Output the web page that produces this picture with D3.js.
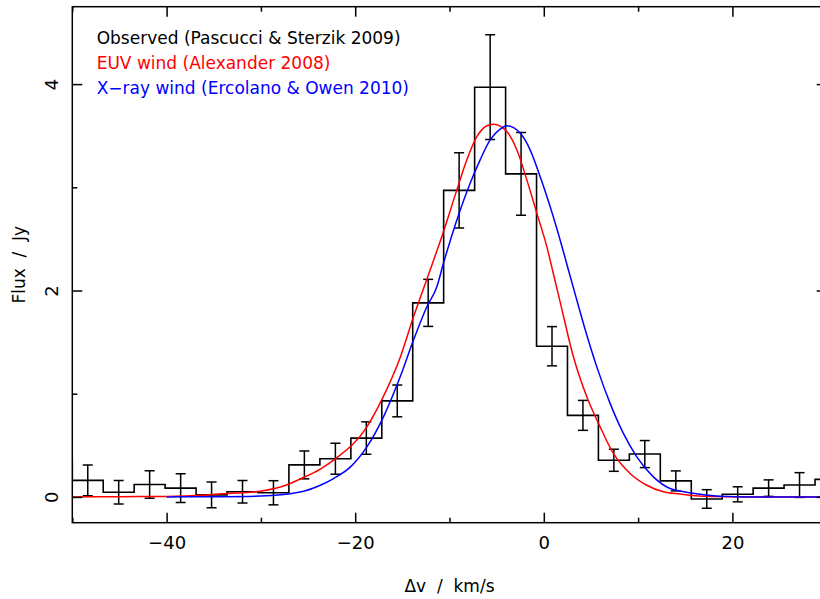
<!DOCTYPE html>
<html>
<head>
<meta charset="utf-8">
<script src="https://cdn.jsdelivr.net/npm/d3@7"></script>
<style>
	body { margin: 0; background: white; }
	text { font-family: 'DejaVu Sans', sans-serif; font-size: 17px; white-space: pre; }
</style>
</head>
<body>
<script>
// observed spectrum, bin centres in km/s (first and last bins are cut by the frame)
var binCenters = [-51.64, -48.36, -45.08, -41.80, -38.51, -35.23, -31.95, -28.67, -25.39, -22.10,
	-18.82, -15.54, -12.26, -8.98, -5.69, -2.41, 0.87, 4.15, 7.43, 10.71,
	14.00, 17.28, 20.56, 23.84, 27.12, 30.41]
var observedFlux = [0.34, 0.16, 0.045, 0.12, 0.085, 0.02, 0.05, 0.04, 0.31, 0.37,
	0.57, 0.93, 1.88, 2.97, 3.97, 3.13, 1.46, 0.79, 0.355, 0.415,
	0.155, -0.02, 0.025, 0.085, 0.115, 0.17]
var observedErr = [0.15, 0.15, 0.115, 0.133, 0.14, 0.125, 0.108, 0.117, 0.135, 0.15,
	0.157, 0.154, 0.228, 0.365, 0.507, 0.40, 0.19, 0.145, 0.107, 0.131,
	0.097, 0.09, 0.073, 0.08, 0.12, 0.12]

// EUV wind model
var euvV = [-50, -45, -40, -36, -33.6, -30.1, -27.0, -25.8, -23.7, -22.3, -18.76, -17.2, -15.2,
	-13.8, -12.4, -10.64, -9.22, -8.16, -7.10, -6.04, -5.34, -3.92, -2.86, -1.80, -0.74,
	0.32, 1.02, 1.73, 3.14, 4.56, 5.97, 7.38, 9.15, 10.92, 12.68, 14.45, 16, 18, 22, 30]
var euvFlux = [0.0, 0.002, 0.005, 0.018, 0.033, 0.055, 0.125, 0.175, 0.27, 0.356, 0.679, 0.938, 1.358,
	1.75, 2.11, 2.57, 2.975, 3.266, 3.49, 3.596, 3.612, 3.54, 3.363, 3.072, 2.749,
	2.425, 2.16, 1.89, 1.358, 0.970, 0.679, 0.421, 0.227, 0.113, 0.05, 0.028, 0.012, 0.003, 0, 0]

// X-ray wind model
var xrayV = [-40, -35, -30, -26, -23.7, -22.3, -20.5, -18.76, -17.0, -15.23, -13.82, -12.40,
	-11.34, -10.64, -9.22, -7.81, -6.75, -5.69, -4.63, -3.92, -2.51, -1.45, -0.39, 0.67, 1.73,
	2.79, 3.50, 4.20, 5.62, 7.03, 8.44, 9.86, 11.62, 13.39, 14.45, 16.57, 18.69, 22, 30]
var xrayFlux = [0.0, 0.002, 0.008, 0.044, 0.113, 0.178, 0.291, 0.485, 0.776, 1.164, 1.52, 1.843,
	2.037, 2.264, 2.684, 3.04, 3.266, 3.46, 3.563, 3.596, 3.525, 3.363, 3.104, 2.813, 2.49,
	2.14, 1.908, 1.68, 1.26, 0.906, 0.615, 0.388, 0.194, 0.081, 0.058, 0.026, 0.007, 0, 0]

var xMajor = [-40, -20, 0, 20]
var xMinor = [-50, -30, -10, 10, 30]
var yMajor = [0, 2, 4]
var yMinor = [1, 3]

var legendLabels = ['Observed (Pascucci & Sterzik 2009)', 'EUV wind (Alexander 2008)', 'X\u2212ray wind (Ercolano & Owen 2010)']
var legendColors = ['black', 'red', 'blue']

// plot box (right edge falls just outside the window)
var boxL = 72.3, boxR = 826.7, boxT = 6.7, boxB = 522.7

var x = d3.scaleLinear().domain([-50, 30]).range([boxL, boxR])
var y = d3.scaleLinear().domain([-0.25, 4.75]).range([boxB, boxT])

var svg = d3.select('body').append('svg')
	.attr('width', 820)
	.attr('height', 599)

svg.append('clipPath').attr('id', 'plotclip')
	.append('rect')
		.attr('x', boxL).attr('y', boxT)
		.attr('width', boxR - boxL).attr('height', boxB - boxT)

var plot = svg.append('g').attr('clip-path', 'url(#plotclip)')

// histogram of the observed line
var hist = d3.line()
	.x(function(d, i) { return x(binCenters[i]) })
	.y(function(d) { return y(d) })
	.curve(d3.curveStep)

plot.append('path')
	.attr('d', hist(observedFlux))
	.attr('fill', 'none')
	.attr('stroke', 'black')
	.attr('stroke-width', 1.6)

// error bars with caps
var bars = plot.append('g').attr('stroke', 'black').attr('stroke-width', 1.5)
observedFlux.forEach(function(f, i) {
	var cx = x(binCenters[i])
	var y1 = y(f - observedErr[i]), y2 = y(f + observedErr[i])
	bars.append('line').attr('x1', cx).attr('x2', cx).attr('y1', y1).attr('y2', y2)
	bars.append('line').attr('x1', cx - 5).attr('x2', cx + 5).attr('y1', y1).attr('y2', y1)
	bars.append('line').attr('x1', cx - 5).attr('x2', cx + 5).attr('y1', y2).attr('y2', y2)
})

// model curves
function modelLine(vs) {
	return d3.line()
		.x(function(d, i) { return x(vs[i]) })
		.y(function(d) { return y(d) })
		.curve(d3.curveMonotoneX)
}

plot.append('path')
	.attr('d', modelLine(euvV)(euvFlux))
	.attr('fill', 'none')
	.attr('stroke', 'red')
	.attr('stroke-width', 1.5)

plot.append('path')
	.attr('d', modelLine(xrayV)(xrayFlux))
	.attr('fill', 'none')
	.attr('stroke', 'blue')
	.attr('stroke-width', 1.5)

// frame
svg.append('rect')
	.attr('x', boxL).attr('y', boxT)
	.attr('width', boxR - boxL).attr('height', boxB - boxT)
	.attr('fill', 'none')
	.attr('stroke', 'black')
	.attr('stroke-width', 1.5)

function fmt(d) { return String(d).replace('-', '\u2212') }

// ticks pointing into the box on every side
function addAxis(axis, tx, ty) {
	var g = svg.append('g')
		.attr('transform', 'translate(' + tx + ',' + ty + ')')
		.call(axis)
	g.select('.domain').remove()
	g.selectAll('line').attr('stroke-width', 1.5)
	return g
}

var xb = addAxis(d3.axisBottom(x).tickValues(xMajor).tickSize(-10).tickPadding(14).tickFormat(fmt), 0, boxB)
xb.selectAll('text').style('font-size', '18px').style('font-family', 'DejaVu Sans').attr('fill', 'black')
addAxis(d3.axisBottom(x).tickValues(xMinor).tickSize(-5).tickFormat(''), 0, boxB)
addAxis(d3.axisTop(x).tickValues(xMajor).tickSize(-10).tickFormat(''), 0, boxT)
addAxis(d3.axisTop(x).tickValues(xMinor).tickSize(-5).tickFormat(''), 0, boxT)

var yl = addAxis(d3.axisLeft(y).tickValues(yMajor).tickSize(-10).tickFormat(fmt), boxL, 0)
yl.selectAll('text')
	.attr('x', 0).attr('dy', 0)
	.attr('text-anchor', 'middle')
	.attr('transform', 'translate(' + (58 - boxL) + ',0) rotate(-90)')
	.style('font-size', '18px').style('font-family', 'DejaVu Sans').attr('fill', 'black')
addAxis(d3.axisLeft(y).tickValues(yMinor).tickSize(-5).tickFormat(''), boxL, 0)
addAxis(d3.axisRight(y).tickValues(yMajor).tickSize(-10).tickFormat(''), boxR, 0)
addAxis(d3.axisRight(y).tickValues(yMinor).tickSize(-5).tickFormat(''), boxR, 0)

// axis titles
svg.append('text')
	.attr('x', (boxL + boxR) / 2)
	.attr('y', 592)
	.attr('text-anchor', 'middle')
	.text('\u0394v  /  km/s')

svg.append('text')
	.attr('transform', 'translate(24.5,' + (boxT + boxB) / 2 + ') rotate(-90)')
	.attr('text-anchor', 'middle')
	.text('Flux  /  Jy')

// legend
var legendY = [43.8, 69, 94.3]
legendLabels.forEach(function(t, i) {
	svg.append('text')
		.attr('x', 96.7)
		.attr('y', legendY[i])
		.attr('fill', legendColors[i])
		.text(t)
})
</script>
</body>
</html>
